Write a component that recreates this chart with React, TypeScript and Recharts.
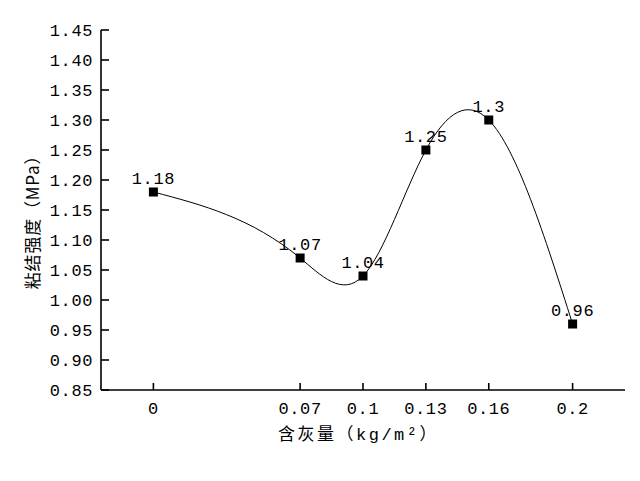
import React from 'react';
import { LineChart, Line, XAxis, YAxis, LabelList, Label } from 'recharts';

// 含灰量 (kg/m²) vs 粘结强度 (MPa)
const ashContent = [0, 0.07, 0.1, 0.13, 0.16, 0.2];
const bondStrength = [1.18, 1.07, 1.04, 1.25, 1.3, 0.96];
const xTicks = [0, 0.07, 0.1, 0.13, 0.16, 0.2];
const yTicks = [0.85, 0.9, 0.95, 1.0, 1.05, 1.1, 1.15, 1.2, 1.25, 1.3, 1.35, 1.4, 1.45];

const data = ashContent.map((x, i) => ({ x, y: bondStrength[i] }));

const INK = '#000';
const NUM_FONT = "'Liberation Mono', monospace";
const TITLE_FONT = "'Liberation Mono', 'Noto Sans CJK SC', sans-serif";

// natural cubic spline with y as a function of x (uneven knots), like Origin's spline
function xSpline(context: any) {
  let xs: number[] = [];
  let ys: number[] = [];
  return {
    areaStart() {},
    areaEnd() {},
    lineStart() {
      xs = [];
      ys = [];
    },
    point(x: number, y: number) {
      xs.push(+x);
      ys.push(+y);
    },
    lineEnd() {
      const n = xs.length;
      if (!n) return;
      context.moveTo(xs[0], ys[0]);
      if (n < 3) {
        for (let i = 1; i < n; i++) context.lineTo(xs[i], ys[i]);
        return;
      }
      const h: number[] = [];
      const d: number[] = [];
      for (let i = 0; i < n - 1; i++) {
        h[i] = xs[i + 1] - xs[i];
        d[i] = (ys[i + 1] - ys[i]) / h[i];
      }
      const m = new Array(n).fill(0);
      const a: number[] = [], b: number[] = [], c: number[] = [], r: number[] = [];
      for (let i = 1; i < n - 1; i++) {
        a[i] = h[i - 1];
        b[i] = 2 * (h[i - 1] + h[i]);
        c[i] = h[i];
        r[i] = 6 * (d[i] - d[i - 1]);
      }
      for (let i = 2; i < n - 1; i++) {
        const w = a[i] / b[i - 1];
        b[i] -= w * c[i - 1];
        r[i] -= w * r[i - 1];
      }
      for (let i = n - 2; i >= 1; i--) {
        m[i] = (r[i] - c[i] * m[i + 1]) / b[i];
      }
      for (let i = 0; i < n - 1; i++) {
        const s0 = d[i] - (h[i] * (2 * m[i] + m[i + 1])) / 6;
        const s1 = d[i] + (h[i] * (m[i] + 2 * m[i + 1])) / 6;
        const k = h[i] / 3;
        context.bezierCurveTo(xs[i] + k, ys[i] + k * s0, xs[i + 1] - k, ys[i + 1] - k * s1, xs[i + 1], ys[i + 1]);
      }
    },
  };
}

const SquareDot = (props: any) => {
  const { cx, cy, index } = props;
  return <rect key={`dot-${index}`} x={cx - 4.5} y={cy - 4.5} width={9} height={9} fill={INK} />;
};

const YTick = ({ x, y, payload }: any) => (
  <text x={x} y={y} dy="0.35em" textAnchor="end" fontFamily={NUM_FONT} fontSize={17} letterSpacing={0.6} fill={INK}>
    {Number(payload.value).toFixed(2)}
  </text>
);

const XTick = ({ x, y, payload }: any) => (
  <text x={x} y={y} dy="0.71em" textAnchor="middle" fontFamily={NUM_FONT} fontSize={17} letterSpacing={0.6} fill={INK}>
    {String(payload.value)}
  </text>
);

const PointLabel = (props: any) => {
  const px = props.x ?? props.viewBox?.x;
  const py = props.y ?? props.viewBox?.y;
  return (
    <text x={px} y={py - 8} textAnchor="middle" fontFamily={NUM_FONT} fontSize={17} letterSpacing={0.6} fill={INK}>
      {String(props.value)}
    </text>
  );
};

const XTitle = ({ viewBox }: any) => (
  <text x={viewBox.x + viewBox.width / 2 - 4.5} y={viewBox.y + 44} dy="0.35em" textAnchor="middle"
    fontFamily={TITLE_FONT} fontSize={17} letterSpacing={2.5} fill={INK}>
    含灰量（kg/m²）
  </text>
);

const YTitle = ({ viewBox }: any) => {
  const cx = viewBox.x + 33;
  const cy = viewBox.y + viewBox.height / 2 + 8;
  return (
    <text x={cx} y={cy} dy="0.35em" textAnchor="middle" transform={`rotate(-90, ${cx}, ${cy})`}
      fontFamily="'Noto Sans CJK SC', sans-serif" fontSize={17} letterSpacing={0.8} fill={INK}>
      粘结强度（MPa）
    </text>
  );
};

export default function App() {
  return (
    <div style={{ position: 'absolute', left: 0, top: 0, width: 640, height: 481, background: '#fff' }}>
      <LineChart width={640} height={481} data={data} margin={{ top: 30, right: 15, left: 0, bottom: 0 }}>
        <XAxis
          dataKey="x"
          type="number"
          domain={[-0.025, 0.225]}
          ticks={xTicks}
          interval={0}
          height={91}
          tickSize={-7}
          tickMargin={19}
          tick={<XTick />}
          axisLine={{ stroke: INK, strokeWidth: 1.6 }}
          tickLine={{ stroke: INK, strokeWidth: 1.6 }}
        >
          <Label content={<XTitle />} />
        </XAxis>
        <YAxis
          type="number"
          domain={[0.85, 1.45]}
          ticks={yTicks}
          interval={0}
          width={101}
          tickSize={-8}
          tickMargin={16}
          tick={<YTick />}
          axisLine={{ stroke: INK, strokeWidth: 1.6 }}
          tickLine={{ stroke: INK, strokeWidth: 1.6 }}
        >
          <Label content={<YTitle />} />
        </YAxis>
        <Line
          dataKey="y"
          type={xSpline as any}
          stroke={INK}
          strokeWidth={1}
          dot={SquareDot}
          activeDot={false}
          isAnimationActive={false}
        >
          <LabelList dataKey="y" content={<PointLabel />} />
        </Line>
      </LineChart>
    </div>
  );
}
